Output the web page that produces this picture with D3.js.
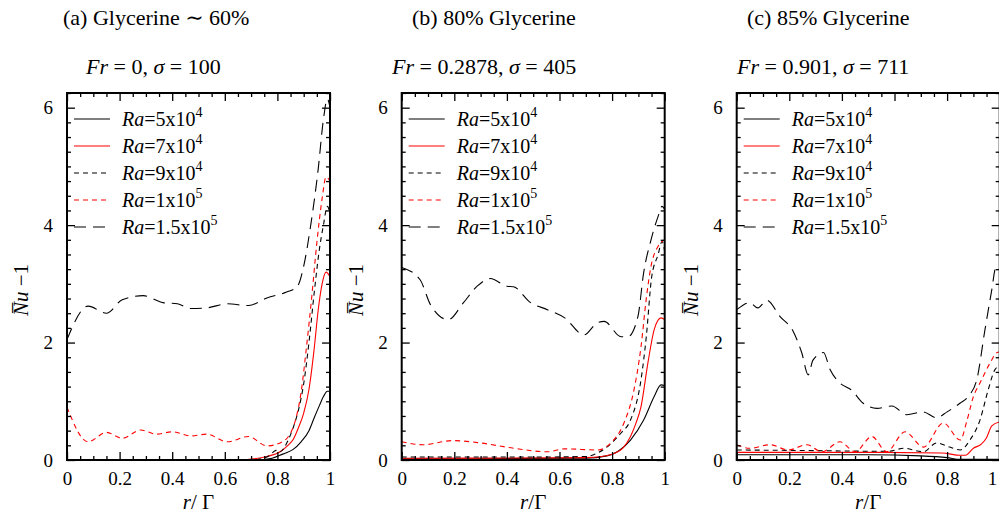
<!DOCTYPE html>
<html>
<head>
<meta charset="utf-8">
<script src="https://cdn.jsdelivr.net/npm/d3@7"></script>
<style>
  html, body { margin: 0; padding: 0; background: #fff; }
  svg, svg text { font-family: "Liberation Serif", "Times New Roman", Tinos, "DejaVu Serif", "Noto Serif", serif; }
</style>
</head>
<body>
<svg id="chart" width="999" height="518"></svg>
<script>
// ---- data -------------------------------------------------------------
const panelTitles = ["(a) Glycerine \u223C 60%", "(b) 80% Glycerine", "(c) 85% Glycerine"];
const panelFr = ["0", "0.2878", "0.901"];
const panelSigma = ["100", "405", "711"];
const xLabels = ["r/ \u0393", "r/\u0393", "r/\u0393"];

const raMantissa = ["5", "7", "9", "1", "1.5"];
const raExponent = ["4", "4", "4", "5", "5"];

const xTicks = [0, 0.2, 0.4, 0.6, 0.8, 1];
const xTickLabels = ["0", "0.2", "0.4", "0.6", "0.8", "1"];
const yTicks = [0, 2, 4, 6];
const yTickLabels = ["0", "2", "4", "6"];

// panel (a): Glycerine ~60%, [r/Γ, Nu-1]
const a_ra5e4 = [[0,0],[0.72,0],[0.78,0.03],[0.82,0.1],[0.86,0.18],[0.89,0.31],[0.92,0.5],[0.94,0.72],[0.96,0.93],[0.975,1.08],[0.99,1.17],[1,1.17]];
const a_ra7e4 = [[0,0],[0.65,0],[0.71,0.02],[0.76,0.06],[0.81,0.14],[0.84,0.25],[0.86,0.35],[0.88,0.55],[0.9,0.8],[0.92,1.2],[0.94,1.9],[0.955,2.55],[0.97,3.0],[0.985,3.2],[1,3.12]];
const a_ra9e4 = [[0,0],[0.7,0],[0.76,0.05],[0.8,0.17],[0.81,0.14],[0.84,0.33],[0.86,0.55],[0.88,0.85],[0.9,1.3],[0.92,2.0],[0.94,2.85],[0.96,3.6],[0.975,4.0],[0.99,4.32],[1,4.2]];
const a_ra1e5 = [[0,0.9],[0.08,0.31],[0.15,0.47],[0.21,0.37],[0.28,0.51],[0.34,0.44],[0.4,0.48],[0.47,0.41],[0.53,0.44],[0.61,0.31],[0.69,0.4],[0.76,0.24],[0.81,0.29],[0.85,0.46],[0.87,0.7],[0.89,1.15],[0.91,1.9],[0.93,2.75],[0.95,3.7],[0.97,4.45],[0.985,4.82],[1,4.75]];
const a_ra15e5 = [[0,2.05],[0.08,2.62],[0.15,2.5],[0.21,2.73],[0.29,2.8],[0.365,2.68],[0.42,2.66],[0.47,2.58],[0.53,2.59],[0.61,2.66],[0.69,2.63],[0.76,2.76],[0.835,2.86],[0.875,2.95],[0.9,3.3],[0.925,3.95],[0.955,4.95],[0.975,5.8],[0.99,6.15],[1,6.0]];

// panel (b): 80% Glycerine
const b_ra5e4 = [[0,0.02],[0.7,0.03],[0.78,0.07],[0.82,0.14],[0.87,0.34],[0.92,0.68],[0.96,1.08],[0.986,1.28],[1,1.27]];
const b_ra7e4 = [[0,0.03],[0.7,0.04],[0.76,0.06],[0.807,0.11],[0.84,0.2],[0.87,0.4],[0.89,0.62],[0.91,0.91],[0.936,1.65],[0.96,2.22],[0.986,2.42],[1,2.39]];
const b_ra9e4 = [[0,0.05],[0.5,0.05],[0.7,0.06],[0.73,0.09],[0.78,0.22],[0.834,0.46],[0.87,0.68],[0.91,1.37],[0.93,2.1],[0.95,3.1],[0.975,3.5],[0.99,3.72],[1,3.55]];
const b_ra1e5 = [[0,0.31],[0.08,0.26],[0.195,0.33],[0.3,0.29],[0.425,0.2],[0.554,0.14],[0.62,0.19],[0.745,0.17],[0.795,0.29],[0.845,0.63],[0.883,1.19],[0.91,1.93],[0.93,2.75],[0.948,3.3],[0.975,3.64],[1,3.75]];
const b_ra15e5 = [[0,3.28],[0.07,3.07],[0.11,2.64],[0.177,2.39],[0.235,2.68],[0.287,2.96],[0.337,3.09],[0.4,2.96],[0.425,2.95],[0.49,2.68],[0.554,2.56],[0.62,2.42],[0.693,2.13],[0.745,2.34],[0.77,2.36],[0.834,2.1],[0.86,2.1],[0.898,2.44],[0.92,3.19],[0.948,3.75],[0.975,4.15],[0.99,4.32],[1,4.27]];

// panel (c): 85% Glycerine
const c_ra5e4 = [[0,0.09],[0.5,0.09],[0.7,0.07],[0.8,0.04],[0.85,0.01],[1,0.01]];
const c_ra7e4 = [[0,0.13],[0.5,0.13],[0.78,0.12],[0.85,0.08],[0.87,0.08],[0.9,0.2],[0.93,0.27],[0.95,0.38],[0.97,0.58],[1,0.65]];
const c_ra9e4 = [[0,0.17],[0.3,0.16],[0.5,0.15],[0.58,0.15],[0.635,0.2],[0.71,0.14],[0.76,0.29],[0.81,0.22],[0.85,0.17],[0.887,0.34],[0.925,0.68],[0.956,1.19],[0.982,1.54],[1,1.6]];
const c_ra1e5 = [[0,0.26],[0.05,0.2],[0.127,0.26],[0.196,0.17],[0.267,0.26],[0.324,0.14],[0.393,0.31],[0.45,0.14],[0.514,0.4],[0.57,0.14],[0.64,0.48],[0.71,0.22],[0.786,0.63],[0.85,0.34],[0.876,0.68],[0.9,1.08],[0.925,1.31],[0.963,1.65],[0.99,1.83],[1,1.84]];
const c_ra15e5 = [[0,2.56],[0.05,2.68],[0.08,2.59],[0.115,2.72],[0.165,2.44],[0.215,2.19],[0.247,1.83],[0.272,1.45],[0.29,1.7],[0.33,1.83],[0.355,1.54],[0.393,1.31],[0.437,1.19],[0.48,0.97],[0.533,0.88],[0.59,0.92],[0.647,0.77],[0.708,0.82],[0.76,0.72],[0.8,0.82],[0.85,0.97],[0.88,1.08],[0.913,1.37],[0.944,2.22],[0.97,2.9],[0.985,3.28],[1,3.3]];

const panelSeries = [
  [a_ra5e4, a_ra7e4, a_ra9e4, a_ra1e5, a_ra15e5],
  [b_ra5e4, b_ra7e4, b_ra9e4, b_ra1e5, b_ra15e5],
  [c_ra5e4, c_ra7e4, c_ra9e4, c_ra1e5, c_ra15e5]
];

// ---- styles ----------------------------------------------------------
const serif = '"Liberation Serif", "Times New Roman", Tinos, "DejaVu Serif", "Noto Serif", serif';
const seriesColor = ["#000", "#f00", "#000", "#f00", "#000"];
const seriesDash = [null, null, "5,4", "5,4", "12,7"];

// ---- layout ----------------------------------------------------------
const panelLeft = [67, 401.7, 736.7];
const panelWidth = 263;
const plotTop = 93, plotBottom = 460;
const titleStart = [63, 412, 747];
const subStart = [86, 392, 737];

const svg = d3.select("#chart");
const y = d3.scaleLinear().domain([0, 6.25]).range([plotBottom, plotTop]);

const xMinor = d3.range(0, 1.0001, 0.05).filter(v => Math.abs(v * 5 - Math.round(v * 5)) > 1e-6);
const yMinor = d3.range(0, 6.2501, 0.25).filter(v => Math.abs(v / 2 - Math.round(v / 2)) > 1e-6);

panelSeries.forEach((series, p) => {
  const x0 = panelLeft[p];
  const x = d3.scaleLinear().domain([0, 1]).range([x0, x0 + panelWidth]);
  const g = svg.append("g");

  const clipId = "clip" + p;
  g.append("clipPath").attr("id", clipId).append("rect")
    .attr("x", x0).attr("y", plotTop).attr("width", panelWidth).attr("height", plotBottom - plotTop);

  // curves
  const line = d3.line().x(d => x(d[0])).y(d => y(d[1])).curve(d3.curveMonotoneX);
  const curves = g.append("g").attr("clip-path", `url(#${clipId})`);
  series.forEach((data, i) => {
    curves.append("path")
      .attr("d", line(data))
      .attr("fill", "none")
      .attr("stroke", seriesColor[i])
      .attr("stroke-width", 1.1)
      .attr("stroke-dasharray", seriesDash[i]);
  });

  // axes: ticks point inward on all four sides
  const axisStyle = sel => {
    sel.attr("font-family", serif);
    sel.select(".domain").remove();
    sel.selectAll("line").attr("stroke", "#000").attr("stroke-width", 1.3);
    sel.selectAll("text").attr("font-family", serif).attr("fill", "#000");
  };
  const lastOnEdge = (d, i) => p === 2 && i === xTicks.length - 1;
  g.append("g").attr("transform", `translate(0,${plotBottom})`)
    .call(d3.axisBottom(x).tickValues(xTicks).tickSize(-8).tickPadding(12)
      .tickFormat((d, i) => xTickLabels[i]))
    .call(axisStyle)
    .selectAll("text").attr("font-size", 19)
    .attr("text-anchor", (d, i) => lastOnEdge(d, i) ? "end" : "middle")
    .attr("dx", (d, i) => lastOnEdge(d, i) ? -3 : 0);
  g.append("g").attr("transform", `translate(0,${plotBottom})`)
    .call(d3.axisBottom(x).tickValues(xMinor).tickSize(-4).tickFormat(""))
    .call(axisStyle);
  g.append("g").attr("transform", `translate(0,${plotTop})`)
    .call(d3.axisTop(x).tickValues(xTicks).tickSize(-8).tickFormat(""))
    .call(axisStyle);
  g.append("g").attr("transform", `translate(0,${plotTop})`)
    .call(d3.axisTop(x).tickValues(xMinor).tickSize(-4).tickFormat(""))
    .call(axisStyle);

  g.append("g").attr("transform", `translate(${x0},0)`)
    .call(d3.axisLeft(y).tickValues(yTicks).tickSize(-8).tickPadding(14)
      .tickFormat((d, i) => yTickLabels[i]))
    .call(axisStyle)
    .selectAll("text").attr("font-size", 19);
  g.append("g").attr("transform", `translate(${x0},0)`)
    .call(d3.axisLeft(y).tickValues(yMinor).tickSize(-4).tickFormat(""))
    .call(axisStyle);
  g.append("g").attr("transform", `translate(${x0 + panelWidth},0)`)
    .call(d3.axisRight(y).tickValues(yTicks).tickSize(-8).tickFormat(""))
    .call(axisStyle);
  g.append("g").attr("transform", `translate(${x0 + panelWidth},0)`)
    .call(d3.axisRight(y).tickValues(yMinor).tickSize(-4).tickFormat(""))
    .call(axisStyle);

  // frame
  g.append("rect")
    .attr("x", x0).attr("y", plotTop)
    .attr("width", panelWidth).attr("height", plotBottom - plotTop)
    .attr("fill", "none").attr("stroke", "#000").attr("stroke-width", 2);

  // legend
  const legendRows = [119, 146, 173, 200, 227];
  legendRows.forEach((ly, i) => {
    g.append("line")
      .attr("x1", x0 + 7).attr("x2", x0 + 43).attr("y1", ly).attr("y2", ly)
      .attr("stroke", seriesColor[i]).attr("stroke-width", 1.1)
      .attr("stroke-dasharray", seriesDash[i]);
    const t = g.append("text").attr("x", x0 + 55).attr("y", ly + 7)
      .attr("font-family", serif).attr("font-size", 20).attr("fill", "#000");
    t.append("tspan").attr("font-style", "italic").text("Ra");
    t.append("tspan").text("=" + raMantissa[i] + "x10");
    t.append("tspan").attr("font-size", 14).attr("dy", -9).text(raExponent[i]);
  });

  // y-axis label
  const yl = g.append("text")
    .attr("transform", `translate(${x0 - 39},290) rotate(-90)`)
    .attr("text-anchor", "middle").attr("font-family", serif)
    .attr("font-size", 21).attr("fill", "#000");
  yl.append("tspan").attr("font-style", "italic").text("N\u0305u");
  yl.append("tspan").text(" \u22121");

  // x-axis label
  const xl = g.append("text")
    .attr("x", x0 + panelWidth / 2).attr("y", 509)
    .attr("text-anchor", "middle").attr("font-family", serif)
    .attr("font-size", 21).attr("fill", "#000");
  xl.append("tspan").attr("font-style", "italic").text("r");
  xl.append("tspan").text(xLabels[p].slice(1));

  // titles
  svg.append("text").attr("x", titleStart[p]).attr("y", 25)
    .attr("font-family", serif).attr("font-size", 22).attr("fill", "#000")
    .text(panelTitles[p]);
  const st = svg.append("text").attr("x", subStart[p]).attr("y", 74)
    .attr("font-family", serif).attr("font-size", 22).attr("fill", "#000");
  st.append("tspan").attr("font-style", "italic").text("Fr");
  st.append("tspan").text(" = " + panelFr[p] + ", ");
  st.append("tspan").attr("font-style", "italic").text("\u03C3");
  st.append("tspan").text(" = " + panelSigma[p]);
});
</script>
</body>
</html>
